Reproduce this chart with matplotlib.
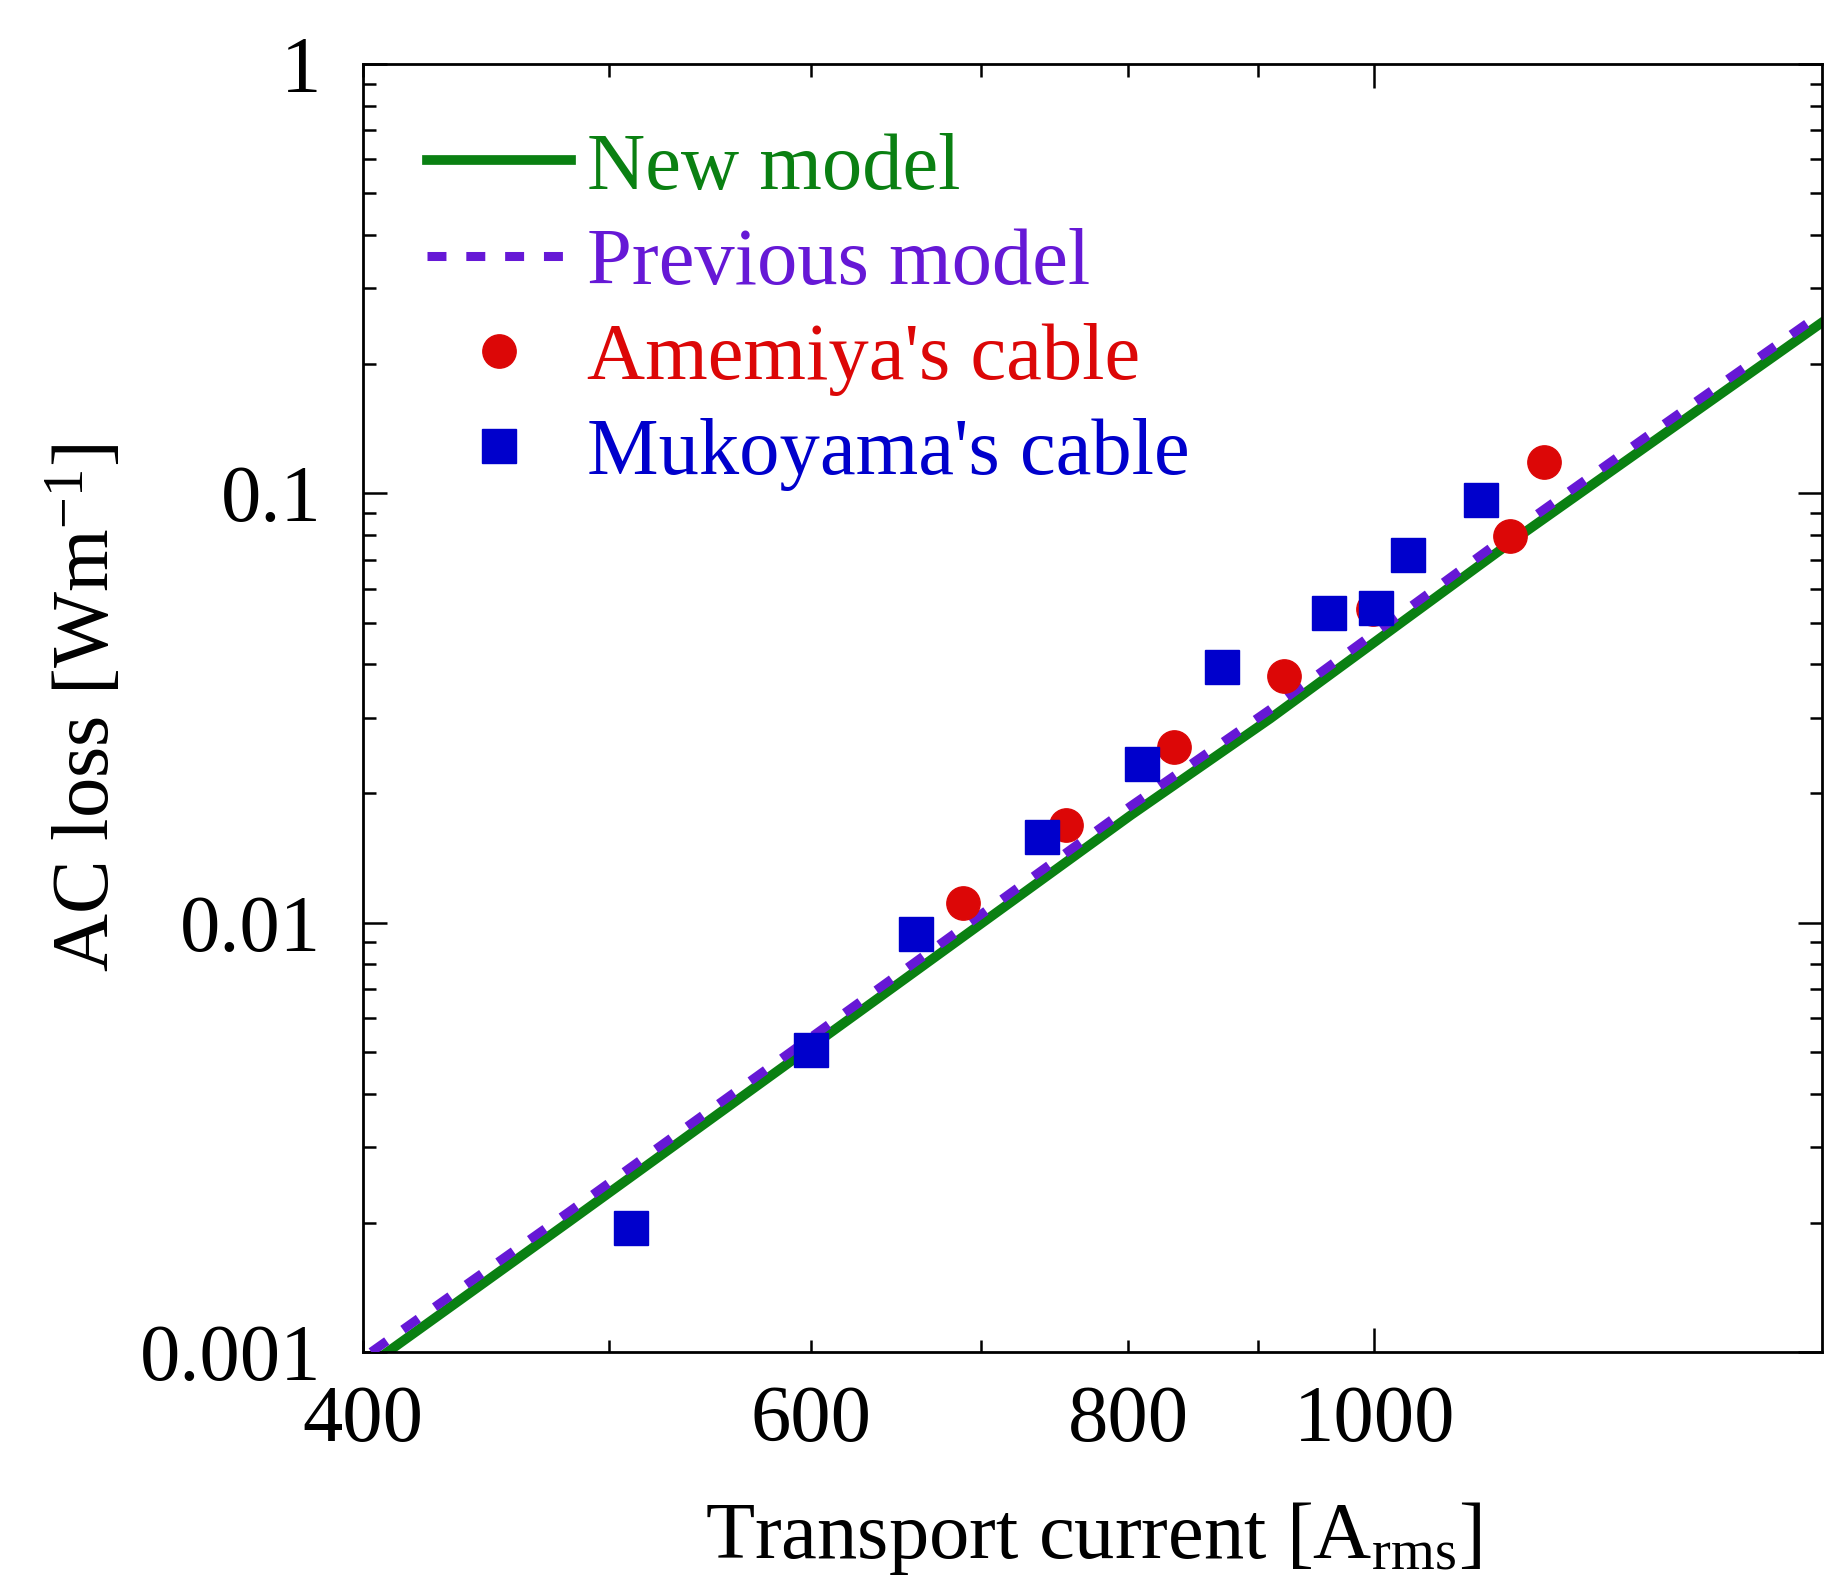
import matplotlib
matplotlib.use("Agg")
import matplotlib.pyplot as plt
from matplotlib.ticker import FixedLocator, FixedFormatter, LogLocator, NullFormatter

plt.rcParams['font.family'] = ['Liberation Serif', 'DejaVu Serif']
plt.rcParams['mathtext.fontset'] = 'custom'
plt.rcParams['mathtext.rm'] = 'Liberation Serif'
plt.rcParams['mathtext.it'] = 'Liberation Serif:italic'

# model curves
new_x = [409, 482, 654, 802, 910, 1142, 1285, 1500]
new_y = [0.00100, 0.00201, 0.00742, 0.0178, 0.0299, 0.0800, 0.131, 0.250]
prev_x = [403, 482, 654, 802, 910, 1142, 1285, 1500]
prev_y = [0.00100, 0.00212, 0.00780, 0.0187, 0.0314, 0.0840, 0.138, 0.263]

# measured data
amemiya_x = [689, 756, 834, 921, 999, 1131, 1166]
amemiya_y = [0.0111, 0.0169, 0.0257, 0.0376, 0.0538, 0.0796, 0.118]
mukoyama_x = [510, 600, 660, 740, 810, 871, 960, 1001, 1031, 1101]
mukoyama_y = [0.00195, 0.00505, 0.00941, 0.0158, 0.0234, 0.0394, 0.0527,
              0.0541, 0.0719, 0.0965]

xmajor = [1000]
xminor = [400, 500, 600, 700, 800, 900]
xminor_labels = ['400', '', '600', '', '800', '']
ymajor = [0.001, 0.01, 0.1, 1]
ymajor_labels = ['0.001', '0.01', '0.1', '1']

GREEN = '#0a8012'
PURPLE = '#6618d6'
RED = '#dc0707'
BLUE = '#0000cc'
FS = 58

fig = plt.figure(figsize=(18.26, 15.91), dpi=100)
ax = fig.add_axes([0.1988, 0.1502, 0.799, 0.8096])

ax.plot(new_x, new_y, color=GREEN, lw=7, label='New model', zorder=2)
ax.plot(prev_x, prev_y, color=PURPLE, lw=6.5, dashes=(2.1, 2.2),
        label='Previous model', zorder=3)
ax.plot(amemiya_x, amemiya_y, 'o', color=RED, ms=24, mec=RED,
        label="Amemiya's cable", zorder=4)
ax.plot(mukoyama_x, mukoyama_y, 's', color=BLUE, ms=24, mec=BLUE,
        label="Mukoyama's cable", zorder=5)

ax.set_xscale('log')
ax.set_yscale('log')
ax.set_xlim(400, 1500)
ax.set_ylim(0.001, 1)

ax.xaxis.set_major_locator(FixedLocator(xmajor))
ax.xaxis.set_major_formatter(FixedFormatter(['1000']))
ax.xaxis.set_minor_locator(FixedLocator(xminor))
ax.xaxis.set_minor_formatter(FixedFormatter(xminor_labels))
ax.yaxis.set_major_locator(FixedLocator(ymajor))
ax.yaxis.set_major_formatter(FixedFormatter(ymajor_labels))
ax.yaxis.set_minor_locator(LogLocator(base=10, subs=range(2, 10)))
ax.yaxis.set_minor_formatter(NullFormatter())

ax.tick_params(which='both', direction='in', top=True, right=True,
               width=1.8, labelsize=FS)
ax.tick_params(which='major', length=17)
ax.tick_params(which='minor', length=9)
ax.tick_params(axis='x', which='both', pad=24)
ax.tick_params(axis='y', which='both', pad=30)
for sp in ax.spines.values():
    sp.set_linewidth(2)

ax.set_xlabel('Transport current [A$_{\\mathrm{rms}}$]', fontsize=FS, labelpad=30)
ax.set_ylabel('AC loss [Wm$^{\\mathrm{-1}}$]', fontsize=FS, labelpad=10)

ax.legend(loc='upper left', bbox_to_anchor=(0.044, 0.947), frameon=False,
          fontsize=FS, handlelength=1.78, handletextpad=0.2, labelspacing=0.27,
          borderaxespad=0, borderpad=0, numpoints=1, labelcolor='linecolor')

fig.savefig('out.png', dpi=100)
